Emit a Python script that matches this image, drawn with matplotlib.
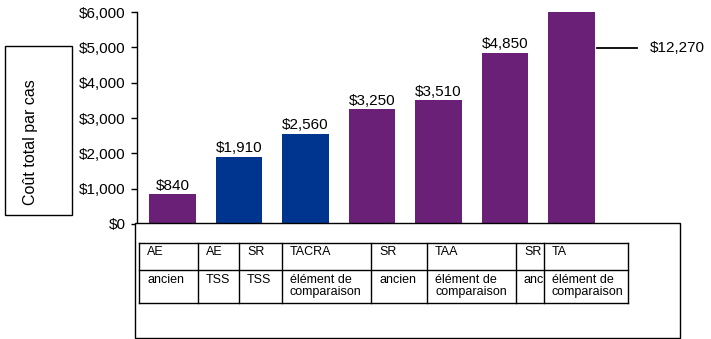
import matplotlib
matplotlib.use("Agg")
import matplotlib.pyplot as plt
from matplotlib.patches import Rectangle
from matplotlib.lines import Line2D

plt.rcParams['font.family'] = ['Liberation Sans', 'DejaVu Sans']

costs = [840, 1910, 2560, 3250, 3510, 4850, 12270]
groups = ["ancien", "TSS", "TSS", "comp", "ancien", "comp", "comp"]
row_top = ["AE", "AE", "SR", "TACRA", "SR", "TAA", "SR", "TA"]
row_bottom = ["ancien", "TSS", "TSS", "élément de\ncomparaison", "ancien",
              "élément de\ncomparaison", "ancien", "élément de\ncomparaison"]
y_ticks = [0, 1000, 2000, 3000, 4000, 5000, 6000]
y_max = 6000

purple = "#6B2077"
blue = "#00358F"
bar_colors = [blue if g == "TSS" else purple for g in groups]

W, H = 711, 339
fig = plt.figure(figsize=(W / 100, H / 100), dpi=100)


def fx(x):
    return x / W


def fy(y):
    return 1 - y / H


ax = fig.add_axes([fx(137), fy(224), fx(607) - fx(137), fy(12) - fy(224)])
xs = list(range(len(costs)))
ax.bar(xs, costs, width=0.705, color=bar_colors)
ax.set_xlim(-0.533, 6.533)
ax.set_ylim(0, y_max)
ax.set_yticks(y_ticks)
ax.set_yticklabels(["${:,}".format(v) for v in y_ticks], fontsize=11)
ax.tick_params(axis='y', direction='out', length=4, width=1, pad=4)
ax.set_xticks([])
for s in ["top", "right"]:
    ax.spines[s].set_visible(False)
ax.spines["left"].set_linewidth(1)
ax.spines["bottom"].set_linewidth(1)

for x, v in zip(xs, costs):
    if v <= y_max:
        ax.annotate("${:,}".format(v), (x, v), xytext=(0, 1), textcoords="offset points",
                    ha="center", va="bottom", fontsize=11)
    else:
        # value off the scale: marker line and label beside the clipped bar
        ax.plot([6.39, 6.99], [4980, 4980], color="black", lw=1.3, clip_on=False)
        ax.annotate("${:,}".format(v), (6.99, 4980), xytext=(9, 0), textcoords="offset points",
                    ha="left", va="center", fontsize=11, annotation_clip=False)

# y label box
fig.patches.append(Rectangle((fx(5), fy(215)), fx(72) - fx(5), fy(46) - fy(215),
                             transform=fig.transFigure, fill=False, ec="black", lw=1))
fig.text(fx(30), fy(142), "Coût total par cas", rotation=90, ha="center", va="center",
         fontsize=11.5)

# table below the chart
fig.patches.append(Rectangle((fx(135), fy(338)), fx(680) - fx(135), fy(223) - fy(338),
                             transform=fig.transFigure, fill=True, fc="white", ec="black",
                             lw=1, zorder=5))
col_edges = [139, 198, 239, 282, 371, 427, 516, 544, 628]
row_edges = [243, 270, 303]
for y in row_edges:
    fig.lines.append(Line2D([fx(col_edges[0]), fx(col_edges[-1])], [fy(y), fy(y)],
                            transform=fig.transFigure, color="black", lw=1, zorder=6))
for x in col_edges:
    fig.lines.append(Line2D([fx(x), fx(x)], [fy(row_edges[0]), fy(row_edges[-1])],
                            transform=fig.transFigure, color="black", lw=1, zorder=6))

for i in range(len(row_top)):
    x0, x1 = col_edges[i], col_edges[i + 1]
    for txt, ytop, yb in [(row_top[i], 246, 270), (row_bottom[i], 274, 303)]:
        t = fig.text(fx(x0 + 8), fy(ytop), txt, ha="left", va="top", fontsize=9,
                     linespacing=1.05, zorder=7)
        clip = Rectangle((fx(x0), fy(yb)), fx(x1) - fx(x0), fy(ytop - 4) - fy(yb),
                         transform=fig.transFigure, visible=False)
        fig.patches.append(clip)
        t.set_clip_path(clip)

fig.savefig("out.png", dpi=100)
